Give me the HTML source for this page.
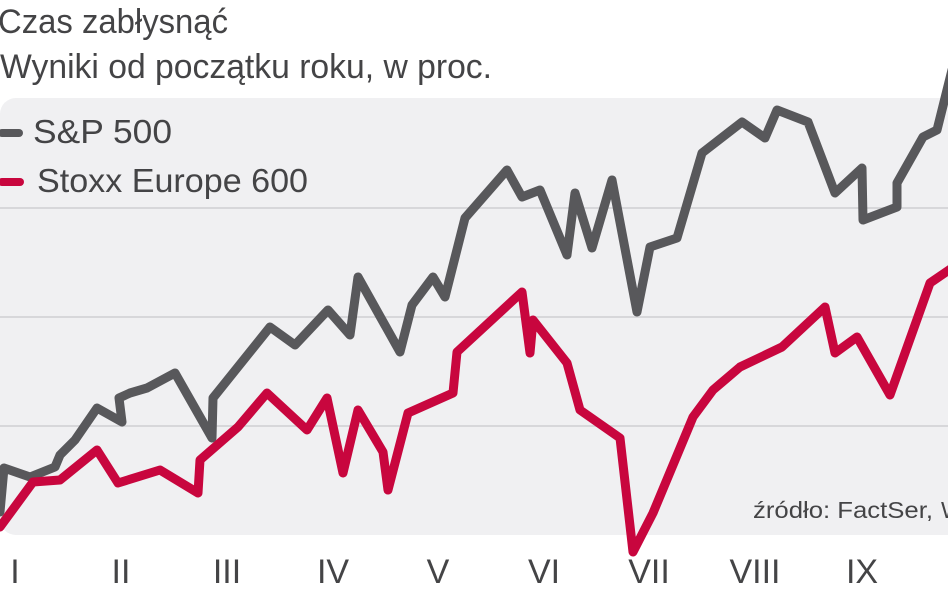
<!DOCTYPE html>
<html>
<head>
<meta charset="utf-8">
<style>
html,body{margin:0;padding:0;background:#fff;}
body{width:948px;height:593px;overflow:hidden;}
svg{display:block;}
text{font-family:"Liberation Sans","DejaVu Sans",sans-serif;fill:#444446;}
</style>
</head>
<body>
<svg width="948" height="593" viewBox="0 0 948 593" xmlns="http://www.w3.org/2000/svg">
  <rect x="0" y="0" width="948" height="593" fill="#ffffff"/>
  <!-- panel -->
  <rect x="0" y="98" width="970" height="437" rx="16" ry="16" fill="#f0f0f2"/>
  <!-- gridlines -->
  <g stroke="#d7d7da" stroke-width="2">
    <line x1="0" y1="208" x2="948" y2="208"/>
    <line x1="0" y1="317" x2="948" y2="317"/>
    <line x1="0" y1="426" x2="948" y2="426"/>
  </g>
  <!-- title -->
  <text x="-2" y="33" font-size="34" textLength="230" lengthAdjust="spacingAndGlyphs">Czas zabłysnąć</text>
  <text x="0" y="78" font-size="34" textLength="492" lengthAdjust="spacingAndGlyphs">Wyniki od początku roku, w proc.</text>
  <!-- legend -->
  <line x1="2" y1="133" x2="19" y2="133" stroke="#58585b" stroke-width="8" stroke-linecap="round"/>
  <text x="33" y="143" font-size="33" textLength="139" lengthAdjust="spacingAndGlyphs">S&amp;P 500</text>
  <line x1="2" y1="182" x2="20" y2="182" stroke="#c8063e" stroke-width="8" stroke-linecap="round"/>
  <text x="37" y="192" font-size="33" textLength="271" lengthAdjust="spacingAndGlyphs">Stoxx Europe 600</text>
  <!-- source -->
  <text x="753" y="518" font-size="23" textLength="180" lengthAdjust="spacingAndGlyphs" fill="#4a4a4c">źródło: FactSer,</text>
  <text x="941" y="518" font-size="23" fill="#4a4a4c">WSJ</text>
  <!-- S&P 500 -->
  <polyline fill="none" stroke="#58585b" stroke-width="9" stroke-linejoin="round" stroke-linecap="round"
    points="0,512 4,468 30,477 55,467 60,455 75,440 97,408 122,422 119,398 130,393 147,388 175,373 212,438 213,398 270,327 295,345 328,310 350,335 358,277 400,352 412,305 433,277 445,297 465,218 507,170 522,197 540,190 567,255 575,193 592,248 612,180 637,312 650,247 677,238 702,153 742,122 765,138 777,110 808,122 835,193 862,168 863,220 897,207 897,183 923,137 937,130 952,70"/>
  <!-- Stoxx Europe 600 -->
  <polyline fill="none" stroke="#c8063e" stroke-width="9" stroke-linejoin="round" stroke-linecap="round"
    points="0,527 33,482 60,480 97,450 118,483 160,470 198,493 200,460 238,427 267,393 307,430 327,398 343,473 358,410 383,452 388,490 408,413 453,393 457,352 522,292 530,353 533,320 567,363 580,410 620,438 633,552 653,513 693,417 713,390 740,367 782,347 825,307 835,353 857,337 890,395 930,283 952,268"/>
  <!-- x labels -->
  <g font-size="34" text-anchor="middle" fill="#2f2f31">
    <text x="15" y="583">I</text>
    <text x="121" y="583">II</text>
    <text x="227" y="583">III</text>
    <text x="333" y="583">IV</text>
    <text x="438" y="583">V</text>
    <text x="544" y="583">VI</text>
    <text x="649" y="583">VII</text>
    <text x="755" y="583">VIII</text>
    <text x="862" y="583">IX</text>
  </g>
</svg>
</body>
</html>
